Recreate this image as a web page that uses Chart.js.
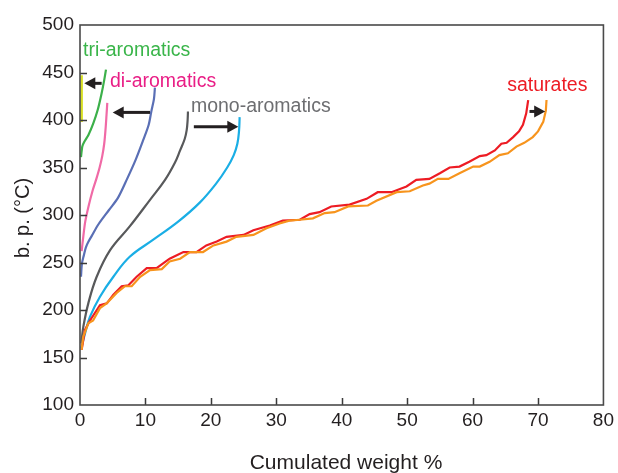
<!DOCTYPE html>
<html>
<head>
<meta charset="utf-8">
<script src="https://cdn.jsdelivr.net/npm/chart.js@4/dist/chart.umd.min.js"></script>
<style>
  html, body { margin: 0; padding: 0; background: #ffffff; }
  #wrap { width: 618px; height: 473px; }
</style>
</head>
<body>
<div id="wrap"><canvas id="c" width="618" height="473"></canvas></div>
<script>
// Boiling point (°C) versus cumulated weight % for each hydrocarbon family
const xTicks = [0, 10, 20, 30, 40, 50, 60, 70, 80];
const yTicks = [100, 150, 200, 250, 300, 350, 400, 450, 500];

const triShort = [[0.25, 398], [0.25, 447]];
const triAromatics = [[0.15, 361], [0.35, 372], [0.66, 377], [1.27, 384], [2.03, 396.5], [2.7, 410.5], [3.3, 428], [3.7, 442], [3.97, 453]];
const diShort = [[0.25, 262], [0.5, 277], [0.8, 293], [1.3, 309], [1.9, 325], [2.5, 338], [3.0, 350], [3.4, 362], [3.7, 375], [3.9, 390], [4.05, 405], [4.17, 418]];
const diAromatics = [[0.15, 235], [0.3, 249], [0.6, 258], [0.9, 266], [1.3, 272], [1.8, 278], [2.8, 290], [4.4, 305], [5.8, 318], [7.2, 338], [8.5, 358], [9.67, 379], [10.5, 395], [10.9, 409], [11.3, 422], [11.45, 434]];
const monoShort = [[0.2, 165], [0.25, 168], [0.5, 182], [1.27, 207], [2.55, 235], [4.6, 263], [7.6, 288], [10.7, 316], [13.0, 337], [14.5, 355], [15.3, 368], [16.0, 380], [16.3, 389], [16.45, 400], [16.5, 409]];
const monoAromatics = [[0.2, 160], [0.76, 175], [1.53, 193], [3.05, 214], [5.1, 235], [7.6, 256], [11.2, 274], [15.0, 293], [18.3, 313], [20.8, 333], [22.5, 350], [23.5, 363], [24.05, 375], [24.3, 388], [24.4, 403]];
const satShort = [[0.25, 158], [0.76, 179], [1.53, 189], [3.05, 205], [4.1, 207], [5.1, 216], [6.37, 225], [7.4, 226], [8.66, 235], [10.2, 244], [11.7, 244], [13.7, 254], [15.8, 261], [17.8, 261], [19.3, 268], [20.9, 272], [22.4, 277], [25.0, 279], [26.5, 284], [29.0, 289], [31.0, 294], [33.6, 295], [35.1, 301], [36.6, 303], [38.4, 309], [41.2, 311], [43.8, 317], [45.5, 324], [47.6, 324], [49.9, 330], [51.4, 337], [53.4, 338], [55.0, 344], [56.5, 350], [58.0, 351], [59.5, 356], [61.1, 362], [62.1, 363], [63.4, 368], [64.4, 375], [65.2, 376], [66.2, 382], [67.1, 388], [67.7, 395], [68.2, 407], [68.5, 421]];
const saturates = [[0.25, 158], [0.5, 172], [1.27, 186], [2.0, 189], [3.05, 202], [4.07, 207], [5.6, 218], [6.87, 225], [7.9, 225], [9.2, 235], [10.7, 242], [12.5, 243], [13.7, 251], [15.3, 254], [16.8, 261], [18.8, 261], [20.4, 268], [22.4, 272], [23.9, 277], [26.5, 279], [28.5, 286], [30.5, 291], [32.0, 294], [33.6, 295], [35.6, 296.5], [37.4, 302], [38.9, 303], [41.0, 309], [44.0, 310], [45.3, 315], [48.4, 324], [50.4, 325], [52.4, 331], [53.4, 333], [54.7, 338], [56.3, 338], [58.0, 344], [60.1, 351], [61.1, 351], [62.6, 356], [64.1, 363], [65.4, 365], [66.7, 372], [67.9, 376], [69.2, 382], [70.0, 388], [70.8, 398], [71.2, 410], [71.3, 421]];

// Family names, placed at [x, y] in data units (left edge, baseline)
const familyLabels = [
  { text: 'tri-aromatics', at: [0.46, 467], color: '#3ab54a' },
  { text: 'di-aromatics', at: [4.58, 434.5], color: '#e91e86' },
  { text: 'mono-aromatics', at: [16.95, 408.5], color: '#6d6e71' },
  { text: 'saturates', at: [65.3, 430.5], color: '#ed1c24' }
];
// Shift arrows: [from, to] in data units
const shiftArrows = [
  [[3.31, 438.6], [0.66, 438.6]],
  [[10.7, 408], [5.0, 408]],
  [[17.4, 393], [24.2, 393]],
  [[68.7, 409], [71.1, 409]]
];

const FONT = '"Liberation Sans", Arial, Helvetica, sans-serif';
const toPts = arr => arr.map(p => ({ x: p[0], y: p[1] }));

function series(data, color, tension, width) {
  return {
    data: toPts(data),
    borderColor: color,
    backgroundColor: color,
    borderWidth: width || 2.2,
    pointRadius: 0,
    showLine: true,
    tension: tension,
    fill: false
  };
}

const decor = {
  id: 'decor',
  afterDraw(chart) {
    const ctx = chart.ctx;
    const xs = chart.scales.x, ys = chart.scales.y;
    const a = chart.chartArea;
    ctx.save();

    // inward tick marks
    ctx.strokeStyle = '#3a3a3a';
    ctx.lineWidth = 1.5;
    ctx.beginPath();
    xTicks.slice(1, -1).forEach(v => {
      const px = Math.round(xs.getPixelForValue(v)) + 0.5;
      ctx.moveTo(px, a.bottom); ctx.lineTo(px, a.bottom - 7);
    });
    yTicks.slice(1, -1).forEach(v => {
      const py = Math.round(ys.getPixelForValue(v)) + 0.5;
      ctx.moveTo(a.left, py); ctx.lineTo(a.left + 7, py);
    });
    ctx.stroke();

    // frame
    ctx.strokeStyle = '#4a4a4a';
    ctx.lineWidth = 1.6;
    ctx.strokeRect(a.left, a.top, a.right - a.left, a.bottom - a.top);

    // arrows
    ctx.fillStyle = '#231f20';
    ctx.strokeStyle = '#231f20';
    shiftArrows.forEach(([f, t]) => {
      const x0 = xs.getPixelForValue(f[0]), y0 = ys.getPixelForValue(f[1]);
      const x1 = xs.getPixelForValue(t[0]), y1 = ys.getPixelForValue(t[1]);
      const dir = Math.sign(x1 - x0);
      const head = 11, half = 6;
      ctx.lineWidth = 3;
      ctx.beginPath();
      ctx.moveTo(x0, y0); ctx.lineTo(x1 - dir * head * 0.8, y1);
      ctx.stroke();
      ctx.beginPath();
      ctx.moveTo(x1, y1);
      ctx.lineTo(x1 - dir * head, y1 - half);
      ctx.lineTo(x1 - dir * head, y1 + half);
      ctx.closePath();
      ctx.fill();
    });

    // family labels
    ctx.font = '19.5px ' + FONT;
    ctx.textAlign = 'left';
    ctx.textBaseline = 'alphabetic';
    familyLabels.forEach(l => {
      ctx.fillStyle = l.color;
      ctx.fillText(l.text, xs.getPixelForValue(l.at[0]), ys.getPixelForValue(l.at[1]));
    });

    // axis titles
    ctx.fillStyle = '#231f20';
    ctx.font = '21px ' + FONT;
    ctx.textAlign = 'center';
    ctx.fillText('Cumulated weight %', 346, 469);
    ctx.font = '20px ' + FONT;
    ctx.translate(29, 218);
    ctx.rotate(-Math.PI / 2);
    ctx.fillText('b. p. (°C)', 0, 0);
    ctx.restore();
  }
};

new Chart(document.getElementById('c'), {
  type: 'scatter',
  data: {
    datasets: [
      series(saturates, '#f7941d', 0),
      series(satShort, '#ed1c24', 0),
      series(monoAromatics, '#1aaee5', 0.4),
      series(monoShort, '#58595b', 0.4),
      series(diAromatics, '#5a6fb5', 0.3),
      series(diShort, '#f06aa6', 0.3),
      series(triAromatics, '#3cb04a', 0.2),
      series(triShort, '#d7df23', 0, 2.5)
    ]
  },
  options: {
    responsive: false,
    animation: false,
    events: [],
    layout: { padding: { left: 0, right: 14, top: 25, bottom: 0 } },
    plugins: { legend: { display: false }, tooltip: { enabled: false }, title: { display: false } },
    scales: {
      x: {
        type: 'linear', min: 0, max: 80,
        afterFit(s) { s.height = 68; },
        afterBuildTicks(s) { s.ticks = xTicks.map(v => ({ value: v })); },
        grid: { display: false, drawTicks: false },
        border: { display: false },
        ticks: { padding: 4, color: '#231f20', font: { family: FONT, size: 19 }, maxRotation: 0, autoSkip: false }
      },
      y: {
        type: 'linear', min: 100, max: 500,
        afterFit(s) { s.width = 80; },
        afterBuildTicks(s) { s.ticks = yTicks.map(v => ({ value: v })); },
        grid: { display: false, drawTicks: false },
        border: { display: false },
        ticks: { padding: 6, color: '#231f20', font: { family: FONT, size: 19 }, autoSkip: false }
      }
    }
  },
  plugins: [decor]
});
</script>
</body>
</html>
